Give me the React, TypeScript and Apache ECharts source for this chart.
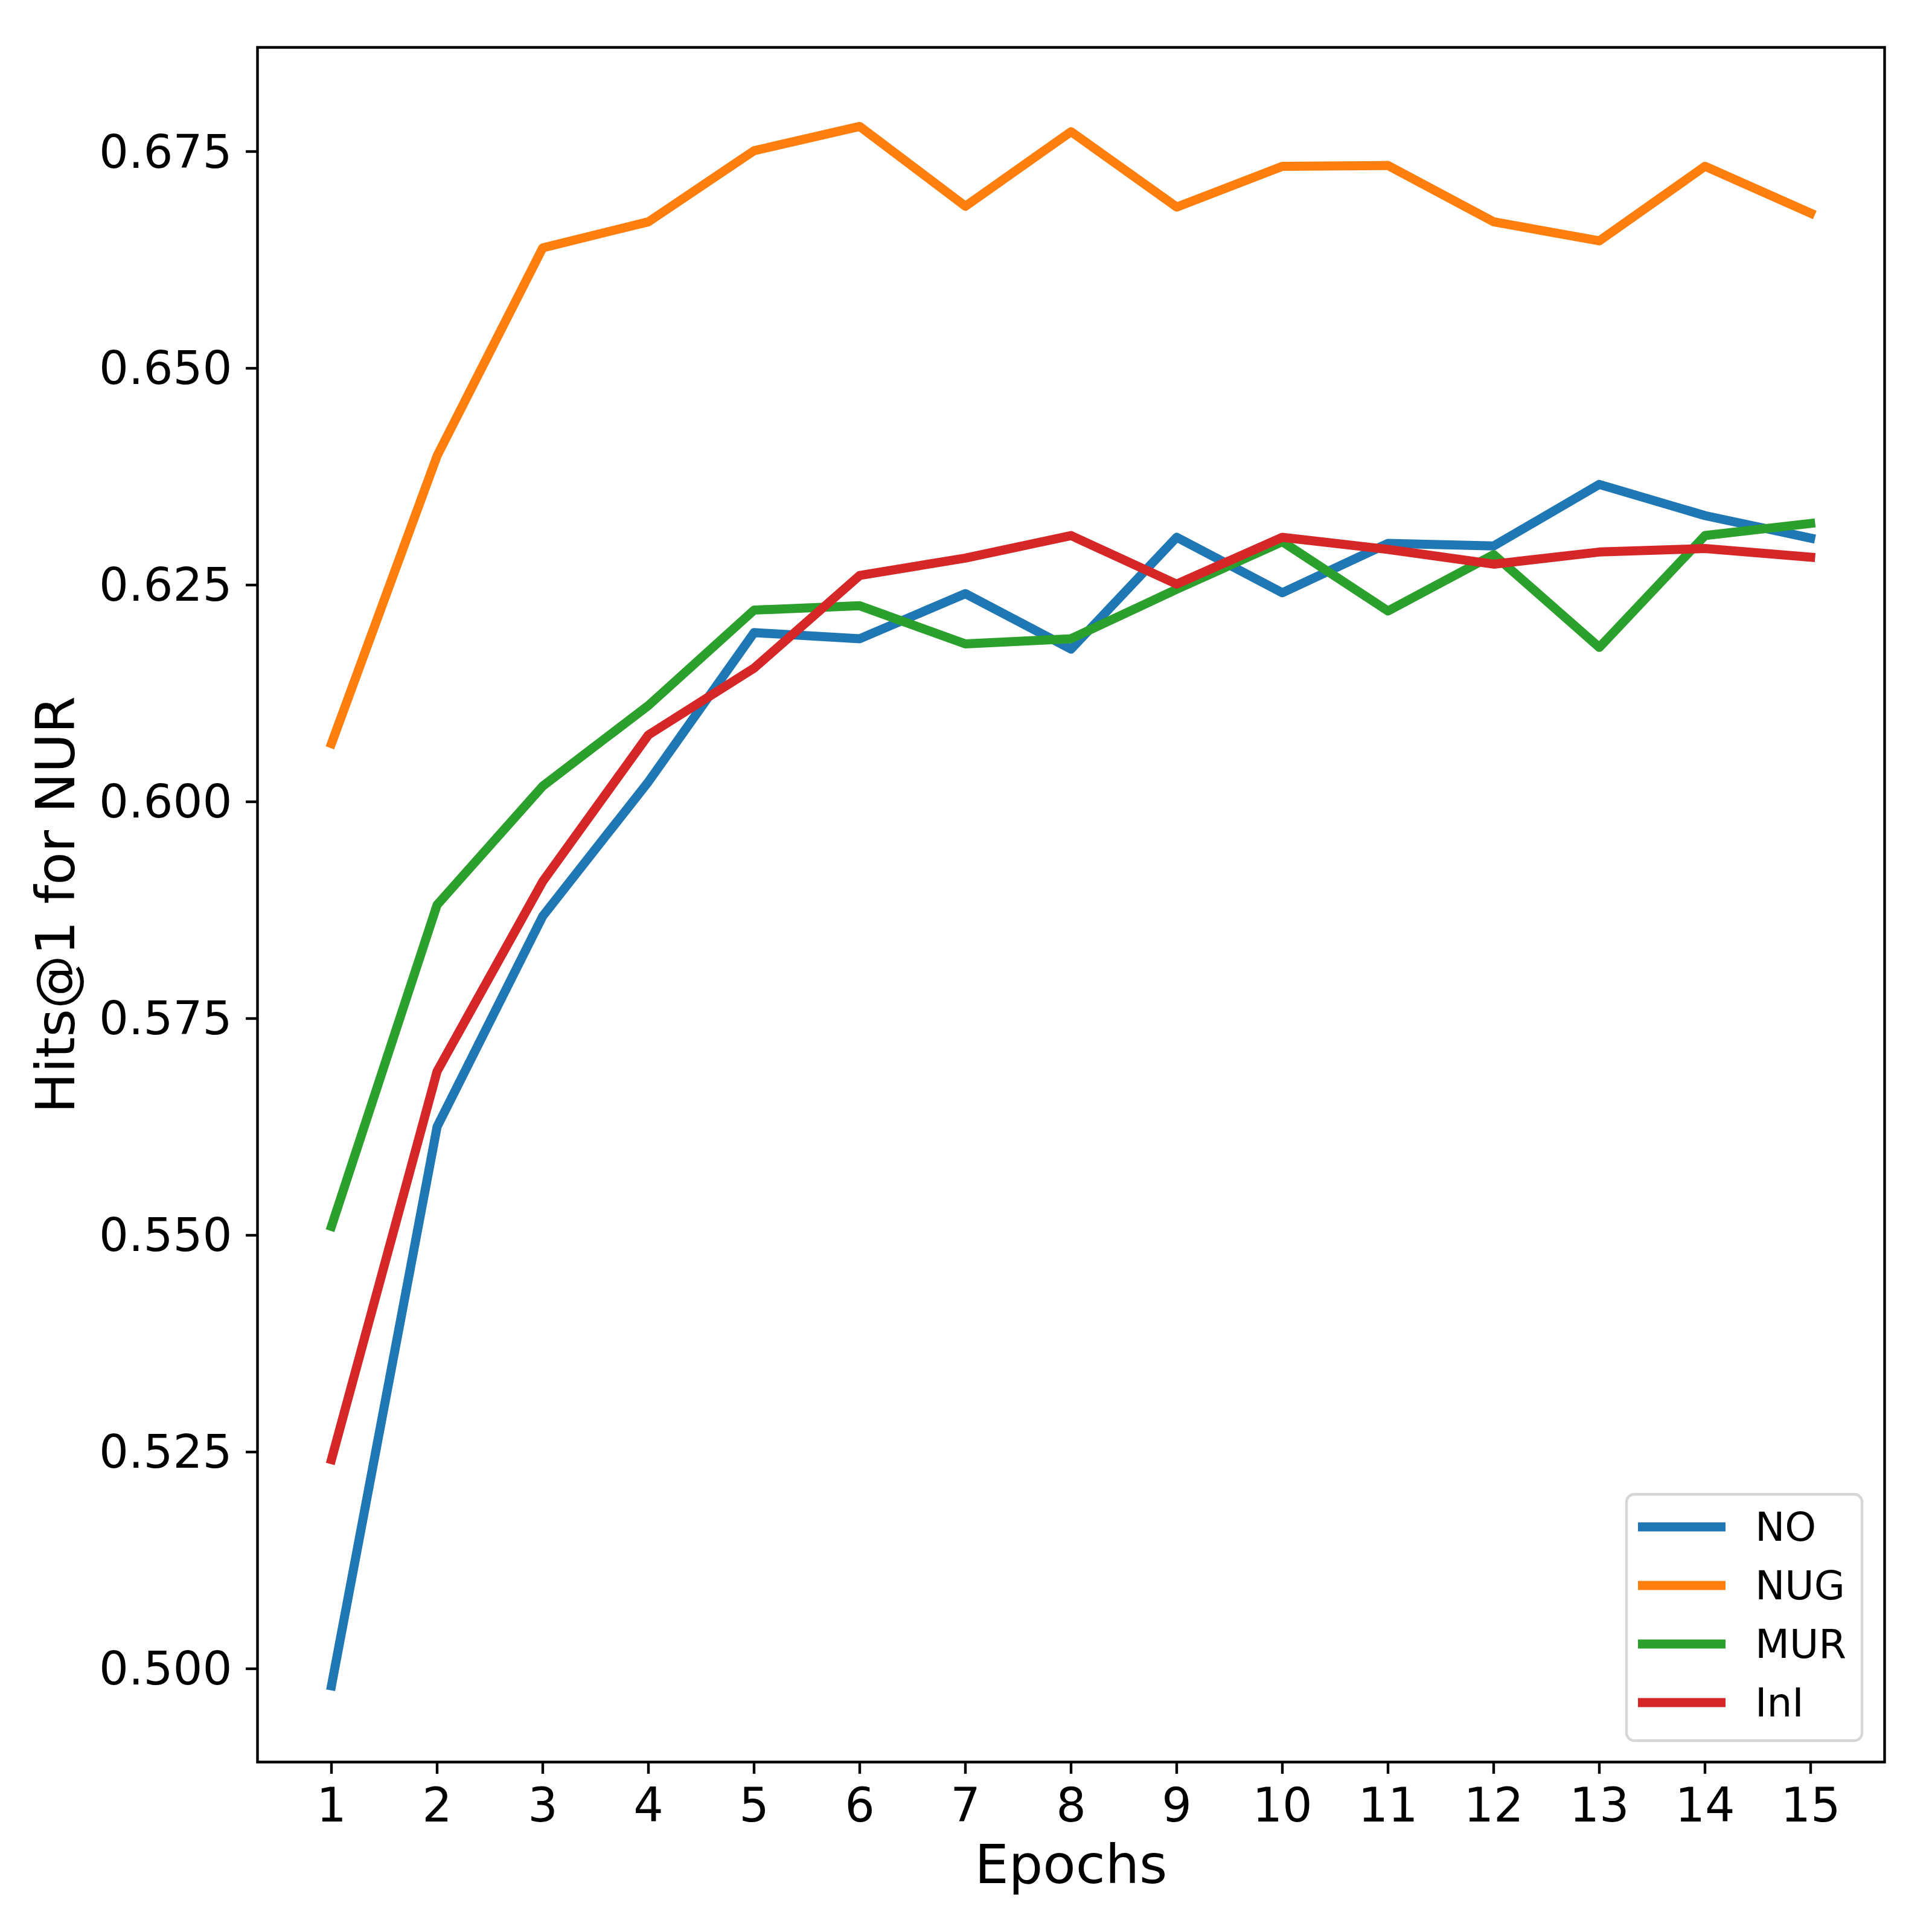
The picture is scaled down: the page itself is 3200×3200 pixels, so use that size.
import React, { useEffect, useRef } from "react";
import * as echarts from "echarts";

const epochs = [1, 2, 3, 4, 5, 6, 7, 8, 9, 10, 11, 12, 13, 14, 15];
const seriesNames = ["NO", "NUG", "MUR", "InI"];
const noValues = [0.498, 0.5625, 0.5868, 0.6023, 0.6195, 0.6188, 0.624, 0.6176, 0.6305, 0.6241, 0.6298, 0.6295, 0.6366, 0.633, 0.6304];
const nugValues = [0.6067, 0.6399, 0.6639, 0.6669, 0.6751, 0.6779, 0.6687, 0.6773, 0.6686, 0.6733, 0.6734, 0.6669, 0.6647, 0.6733, 0.6679];
const murValues = [0.551, 0.5881, 0.6018, 0.6111, 0.6221, 0.6226, 0.6182, 0.6188, 0.6245, 0.63, 0.622, 0.6285, 0.6178, 0.6307, 0.6321];
const iniValues = [0.5241, 0.5689, 0.5908, 0.6077, 0.6154, 0.6261, 0.6281, 0.6307, 0.6251, 0.6305, 0.6291, 0.6274, 0.6288, 0.6292, 0.6282];
const yTicks = [0.5, 0.525, 0.55, 0.575, 0.6, 0.625, 0.65, 0.675];
const xTicks = epochs;
const colors = ["#1f77b4", "#ff7f0e", "#2ca02c", "#d62728"];

const FONT = "DejaVu Sans";

export default function App() {
  const ref = useRef<HTMLDivElement>(null);
  useEffect(() => {
    document.body.style.margin = "0";
    if (!ref.current) return;
    const chart = echarts.init(ref.current, null, { renderer: "svg" });
    const allValues = [noValues, nugValues, murValues, iniValues];
    const series = seriesNames.map((name, i) => ({
      name,
      type: "line",
      data: epochs.map((e, j) => [e, allValues[i][j]]),
      showSymbol: false,
      symbol: "none",
      lineStyle: { color: colors[i], width: 15, cap: "square", join: "round" },
      itemStyle: { color: colors[i] },
      clip: true,
      z: 2 + i,
    }));
    chart.setOption({
      animation: false,
      backgroundColor: "#ffffff",
      grid: {
        left: 426.5,
        top: 78.5,
        width: 2695,
        height: 2840,
        show: true,
        borderColor: "#000000",
        borderWidth: 4.4,
        backgroundColor: "transparent",
        containLabel: false,
      },
      xAxis: {
        type: "value",
        min: 0.3,
        max: 15.7,
        name: "Epochs",
        nameLocation: "middle",
        nameGap: 125,
        nameTextStyle: { fontSize: 89, fontFamily: FONT, color: "#000" },
        axisLine: { show: false },
        splitLine: { show: false },
        axisTick: {
          show: true,
          length: 19.4,
          inside: false,
          customValues: xTicks,
          lineStyle: { color: "#000", width: 4.4 },
        },
        axisLabel: {
          show: true,
          customValues: xTicks,
          margin: 32,
          fontSize: 78,
          fontFamily: FONT,
          color: "#000",
          formatter: (v: number) => String(Math.round(v)),
        },
      },
      yAxis: {
        type: "value",
        min: 0.4892,
        max: 0.68702,
        name: "Hits@1 for NUR",
        nameLocation: "middle",
        nameGap: 290,
        nameRotate: 90,
        nameTextStyle: { fontSize: 89, fontFamily: FONT, color: "#000" },
        axisLine: { show: false },
        splitLine: { show: false },
        axisTick: {
          show: true,
          length: 19.4,
          inside: false,
          customValues: yTicks,
          lineStyle: { color: "#000", width: 4.4 },
        },
        axisLabel: {
          show: true,
          customValues: yTicks,
          margin: 42,
          fontSize: 77,
          fontFamily: FONT,
          color: "#000",
          formatter: (v: number) => v.toFixed(3),
        },
      },
      legend: {
        data: seriesNames,
        orient: "vertical",
        left: 2694,
        top: 2475,
        padding: [19, 26, 28, 19],
        backgroundColor: "#ffffff",
        borderColor: "#d6d6d6",
        borderWidth: 4.4,
        borderRadius: 13,
        icon: "rect",
        itemWidth: 145,
        itemHeight: 15,
        itemGap: 27,
        selectedMode: false,
        textStyle: {
          fontSize: 66,
          fontFamily: FONT,
          color: "#000",
          lineHeight: 70,
          padding: [0, 0, 0, 44],
        },
      },
      series,
    });
    return () => chart.dispose();
  }, []);
  return <div ref={ref} style={{ width: 3200, height: 3200 }} />;
}
